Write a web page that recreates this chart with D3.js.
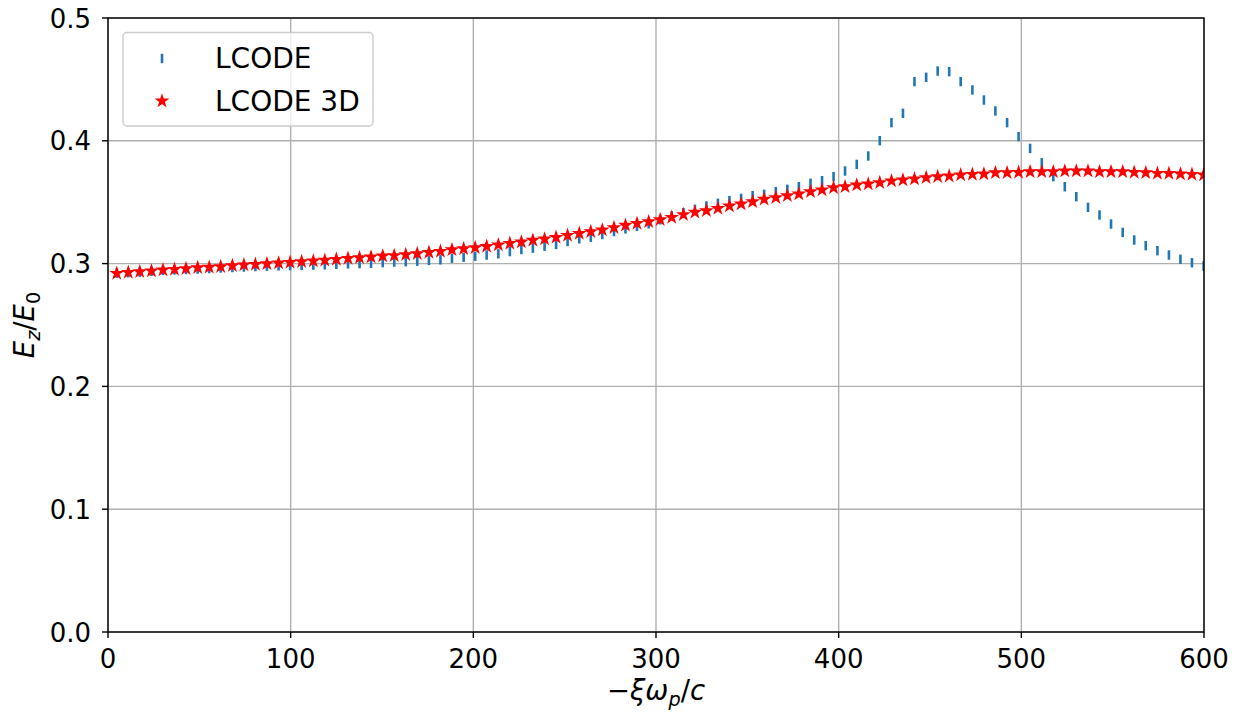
<!DOCTYPE html>
<html>
<head>
<meta charset="utf-8">
<script src="https://cdn.jsdelivr.net/npm/d3@7"></script>
<style>
  body { margin: 0; background: white; }
  text { font-family: "DejaVu Sans", sans-serif; }
</style>
</head>
<body>
<div id="container"></div>
<script>
// -xi * omega_p / c sample positions (shared by both runs)
let xi = [4.8, 11.1, 17.4, 23.8, 30.1, 36.4, 42.7, 49.1, 55.4, 61.7,
  68.1, 74.4, 80.7, 87.0, 93.4, 99.7, 106.0, 112.4, 118.7, 125.0,
  131.4, 137.7, 144.0, 150.4, 156.7, 163.0, 169.3, 175.7, 182.0, 188.3,
  194.7, 201.0, 207.3, 213.7, 220.0, 226.3, 232.6, 239.0, 245.3, 251.6,
  258.0, 264.3, 270.6, 277.0, 283.3, 289.6, 296.0, 302.3, 308.6, 315.0,
  321.3, 327.6, 333.9, 340.2, 346.6, 352.9, 359.2, 365.6, 371.9, 378.2,
  384.6, 390.9, 397.2, 403.5, 409.9, 416.2, 422.5, 428.9, 435.2, 441.5,
  447.9, 454.2, 460.5, 466.8, 473.2, 479.5, 485.8, 492.2, 498.5, 504.8,
  511.2, 517.5, 523.8, 530.1, 536.5, 542.8, 549.1, 555.5, 561.8, 568.1,
  574.5, 580.8, 587.1, 593.4, 599.8];

let lcode = [0.2922, 0.2926, 0.2930, 0.2937, 0.2944, 0.2948, 0.2952, 0.2956, 0.2960, 0.2964,
  0.2968, 0.2972, 0.2976, 0.2979, 0.2982, 0.2984, 0.2986, 0.2988, 0.2990, 0.2994,
  0.2998, 0.3000, 0.3003, 0.3008, 0.3013, 0.3016, 0.3020, 0.3026, 0.3031, 0.3044,
  0.3052, 0.3060, 0.3070, 0.3080, 0.3098, 0.3115, 0.3126, 0.3142, 0.3156, 0.3180,
  0.3202, 0.3215, 0.3237, 0.3261, 0.3283, 0.3304, 0.3324, 0.3357, 0.3388, 0.3415,
  0.3442, 0.3469, 0.3491, 0.3513, 0.3531, 0.3553, 0.3564, 0.3586, 0.3605, 0.3626,
  0.3654, 0.3675, 0.3708, 0.3754, 0.3808, 0.3876, 0.4001, 0.4148, 0.4224, 0.4482,
  0.4517, 0.4568, 0.4563, 0.4482, 0.4414, 0.4332, 0.4243, 0.4148, 0.4034, 0.3938,
  0.3821, 0.3708, 0.3626, 0.3545, 0.3458, 0.3396, 0.3322, 0.3254, 0.3192, 0.3146,
  0.3105, 0.3070, 0.3035, 0.3007, 0.2980];

let lcode3d = [0.2921, 0.2929, 0.2934, 0.2940, 0.2948, 0.2953, 0.2959, 0.2967, 0.2970, 0.2975,
  0.2983, 0.2989, 0.2994, 0.2999, 0.3005, 0.3010, 0.3016, 0.3021, 0.3027, 0.3035,
  0.3043, 0.3048, 0.3054, 0.3062, 0.3065, 0.3073, 0.3081, 0.3092, 0.3100, 0.3113,
  0.3121, 0.3130, 0.3140, 0.3152, 0.3165, 0.3176, 0.3190, 0.3200, 0.3214, 0.3230,
  0.3246, 0.3260, 0.3274, 0.3293, 0.3312, 0.3328, 0.3341, 0.3358, 0.3377, 0.3399,
  0.3418, 0.3431, 0.3450, 0.3469, 0.3485, 0.3504, 0.3524, 0.3537, 0.3553, 0.3567,
  0.3586, 0.3600, 0.3618, 0.3626, 0.3640, 0.3648, 0.3659, 0.3673, 0.3681, 0.3689,
  0.3700, 0.3708, 0.3713, 0.3722, 0.3727, 0.3730, 0.3740, 0.3740, 0.3743, 0.3748,
  0.3748, 0.3748, 0.3754, 0.3754, 0.3754, 0.3748, 0.3748, 0.3748, 0.3743, 0.3740,
  0.3735, 0.3735, 0.3730, 0.3727, 0.3722];

let xTicks = [0, 100, 200, 300, 400, 500, 600];
let yTicks = [0.0, 0.1, 0.2, 0.3, 0.4, 0.5];
let legendNames = ["LCODE", "LCODE 3D"];

let w = 1246;
let h = 715;
let mLeft = 108, mRight = 1204, mTop = 18, mBottom = 632;
let fontSize = 26;
let legendSize = 28;
let labelSize = 27.5;
let blue = "#1f77b4";

let viz = d3.select("#container")
  .append("svg")
    .attr("width", w)
    .attr("height", h)
    .style("background-color", "white")
;

let xScale = d3.scaleLinear().domain([0, 600]).range([mLeft, mRight]);
let yScale = d3.scaleLinear().domain([0, 0.5]).range([mBottom, mTop]);

// grid
viz.append("g").selectAll("line").data(xTicks).enter().append("line")
    .attr("x1", d => xScale(d)).attr("x2", d => xScale(d))
    .attr("y1", mTop).attr("y2", mBottom)
    .attr("stroke", "#b0b0b0").attr("stroke-width", 1.4)
;
viz.append("g").selectAll("line").data(yTicks).enter().append("line")
    .attr("x1", mLeft).attr("x2", mRight)
    .attr("y1", d => yScale(d)).attr("y2", d => yScale(d))
    .attr("stroke", "#b0b0b0").attr("stroke-width", 1.4)
;

viz.append("clipPath").attr("id", "clip")
  .append("rect")
    .attr("x", mLeft).attr("y", mTop)
    .attr("width", mRight - mLeft).attr("height", mBottom - mTop)
;

function starPath(R){
    let p = d3.path();
    for (let k = 0; k < 10; k++) {
        let r = k % 2 == 0 ? R : R * 0.381966;
        let a = -Math.PI / 2 + k * Math.PI / 5;
        if (k == 0) p.moveTo(r * Math.cos(a), r * Math.sin(a));
        else p.lineTo(r * Math.cos(a), r * Math.sin(a));
    }
    p.closePath();
    return p.toString();
}

let plot = viz.append("g").attr("clip-path", "url(#clip)");

// LCODE: vertical tick markers
plot.append("g").selectAll("line").data(lcode).enter().append("line")
    .attr("x1", (d, i) => xScale(xi[i])).attr("x2", (d, i) => xScale(xi[i]))
    .attr("y1", d => yScale(d) - 4.7).attr("y2", d => yScale(d) + 4.7)
    .attr("stroke", blue).attr("stroke-width", 2.6)
;

// LCODE 3D: red stars
plot.append("g").selectAll("path").data(lcode3d).enter().append("path")
    .attr("d", starPath(5.4))
    .attr("transform", (d, i) => "translate(" + xScale(xi[i]) + "," + yScale(d) + ")")
    .attr("fill", "red").attr("stroke", "red").attr("stroke-width", 1.5)
    .attr("stroke-linejoin", "miter")
;

// spines
viz.append("rect")
    .attr("x", mLeft).attr("y", mTop)
    .attr("width", mRight - mLeft).attr("height", mBottom - mTop)
    .attr("fill", "none").attr("stroke", "black").attr("stroke-width", 1.4)
;

// ticks and labels
let xt = viz.append("g").selectAll("g").data(xTicks).enter().append("g")
    .attr("transform", d => "translate(" + xScale(d) + "," + mBottom + ")");
xt.append("line").attr("y1", 0).attr("y2", 6).attr("stroke", "black").attr("stroke-width", 1.4);
xt.append("text")
    .text(d => d)
    .attr("y", 36)
    .attr("text-anchor", "middle")
    .style("font-size", fontSize + "px")
;

let yt = viz.append("g").selectAll("g").data(yTicks).enter().append("g")
    .attr("transform", d => "translate(" + mLeft + "," + yScale(d) + ")");
yt.append("line").attr("x1", 0).attr("x2", -6).attr("stroke", "black").attr("stroke-width", 1.4);
yt.append("text")
    .text(d => d.toFixed(1))
    .attr("x", -17)
    .attr("y", 9.5)
    .attr("text-anchor", "end")
    .style("font-size", fontSize + "px")
;

// axis labels
let xl = viz.append("text")
    .attr("x", (mLeft + mRight) / 2)
    .attr("y", 700)
    .attr("text-anchor", "middle")
    .style("font-size", labelSize + "px")
;
xl.append("tspan").text("\u2212");
xl.append("tspan").text("\u03be\u03c9").style("font-style", "italic");
xl.append("tspan").text("p").style("font-style", "italic")
    .style("font-size", (labelSize * 0.7) + "px").attr("dy", 6);
xl.append("tspan").text("/").attr("dy", -6);
xl.append("tspan").text("c").style("font-style", "italic");

let yl = viz.append("text")
    .attr("transform", "translate(34," + ((mTop + mBottom) / 2) + ") rotate(-90)")
    .attr("text-anchor", "middle")
    .style("font-size", labelSize + "px")
    .style("font-style", "italic")
;
yl.append("tspan").text("E");
yl.append("tspan").text("z").style("font-size", (labelSize * 0.7) + "px").attr("dy", 6);
yl.append("tspan").text("/").style("font-style", "normal").attr("dy", -6);
yl.append("tspan").text("E");
yl.append("tspan").text("0").style("font-style", "normal")
    .style("font-size", (labelSize * 0.7) + "px").attr("dy", 6);

// legend
let legend = viz.append("g");
legend.append("rect")
    .attr("x", 123).attr("y", 32.5)
    .attr("width", 250).attr("height", 93.5)
    .attr("rx", 4)
    .attr("fill", "white").attr("fill-opacity", 0.8)
    .attr("stroke", "#cccccc").attr("stroke-width", 1.4)
;
legend.append("line")
    .attr("x1", 162).attr("x2", 162)
    .attr("y1", 58.5 - 4.7).attr("y2", 58.5 + 4.7)
    .attr("stroke", blue).attr("stroke-width", 2.6)
;
legend.append("path")
    .attr("d", starPath(5.4))
    .attr("transform", "translate(162,101)")
    .attr("fill", "red").attr("stroke", "red").attr("stroke-width", 1.5)
;
legend.selectAll("text").data(legendNames).enter().append("text")
    .text(d => d)
    .attr("x", 215)
    .attr("y", (d, i) => 68 + i * 42.5)
    .style("font-size", legendSize + "px")
;
</script>
</body>
</html>
